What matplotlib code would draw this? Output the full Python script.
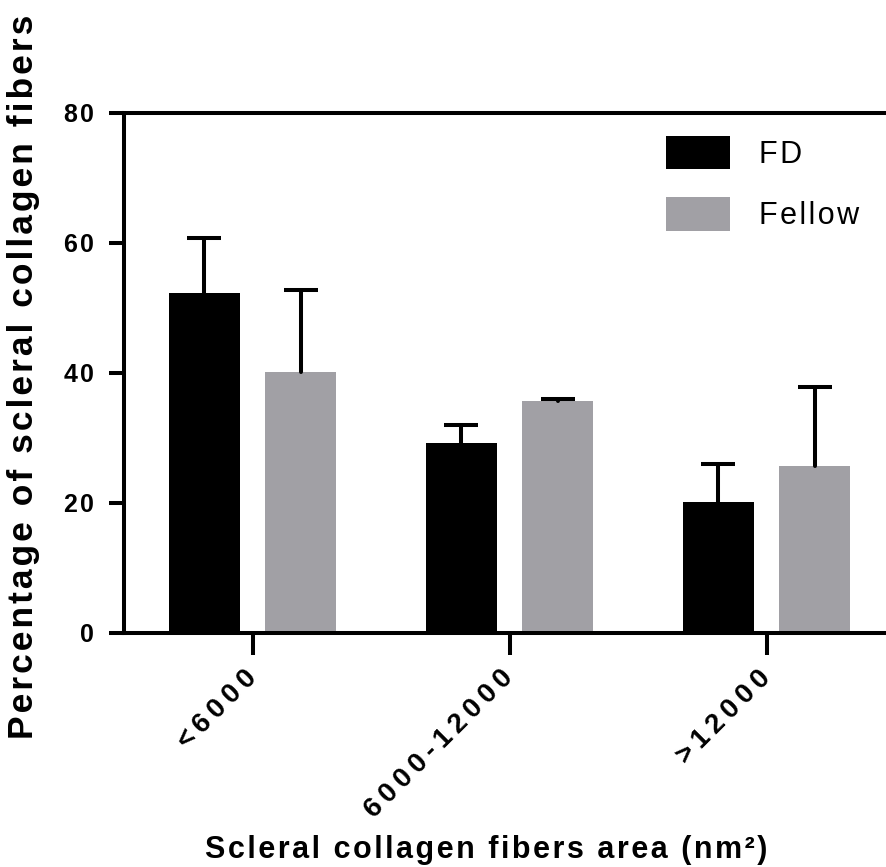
import numpy as np
import matplotlib
matplotlib.use('Agg')
import matplotlib.pyplot as plt

plt.rcParams['font.family'] = ['Liberation Sans', 'DejaVu Sans']

categories = ['<6000', '6000-12000', '>12000']
fd_mean = [52.2, 29.2, 20.1]
fd_err = [8.5, 2.8, 5.8]
fellow_mean = [40.1, 35.7, 25.7]
fellow_err = [12.6, 0.2, 12.1]
yticks = [0, 20, 40, 60, 80]

FD_COLOR = 'black'
FELLOW_COLOR = '#a1a0a5'
LW = 2.9


def spaced(s, gap='\u200a'):
    # widen the letter spacing by putting a narrow space between characters
    return gap.join(s)


def upper_errbar(ax, xpos, mean, err):
    # only the upper half of the SD bar, as in Prism
    top = np.asarray(mean) + np.asarray(err)
    ax.vlines(xpos, mean, top, colors='black', lw=LW, zorder=3, capstyle='round')
    ax.plot(xpos, top, ls='none', marker='_', ms=25, mew=LW, color='black',
            zorder=3, clip_on=False)


fig = plt.figure(figsize=(8.86, 8.67), dpi=100)
ax = fig.add_axes([124 / 886, 1 - 632.7 / 867, 771 / 886, 520 / 867])

x = np.arange(len(categories))
w = 0.278
off = 0.187

ax.bar(x - off, fd_mean, w, color=FD_COLOR, label=spaced('FD'), zorder=2)
ax.bar(x + off, fellow_mean, w, color=FELLOW_COLOR, label=spaced('Fellow'), zorder=2)
upper_errbar(ax, x - off, fd_mean, fd_err)
upper_errbar(ax, x + off, fellow_mean, fellow_err)

ax.set_xlim(-0.5, 2.5)
ax.set_ylim(0, 80)

ax.set_yticks(yticks)
ax.set_yticklabels([spaced(str(v)) for v in yticks], fontsize=18, fontweight='bold')
ax.set_xticks(x)
ax.set_xticklabels([spaced(c, '\u2009') for c in categories], fontsize=20,
                   fontweight='bold', rotation=45, ha='right', va='center',
                   rotation_mode='anchor')

ax.tick_params(axis='y', length=11, width=LW, pad=11)
ax.tick_params(axis='x', length=16, width=LW, pad=14)

for side in ['left', 'bottom', 'top']:
    ax.spines[side].set_linewidth(LW)
ax.spines['right'].set_visible(False)

fig.text(24 / 886, 1 - 377 / 867, spaced('Percentage of scleral collagen fibers'),
         rotation=90, ha='center', va='center', fontsize=25.5, fontweight='bold')
fig.text(486 / 886, 1 - 858 / 867, spaced('Scleral collagen fibers area (nm²)'),
         ha='center', va='baseline', fontsize=22, fontweight='bold')

ax.legend(loc='upper left', bbox_to_anchor=(666 / 886, 1 - 136 / 867),
          bbox_transform=fig.transFigure, frameon=False, fontsize=22,
          handlelength=2.1, handleheight=1.3, handletextpad=0.95,
          labelspacing=0.9, borderpad=0, borderaxespad=0)

fig.savefig('out.png', dpi=100)
